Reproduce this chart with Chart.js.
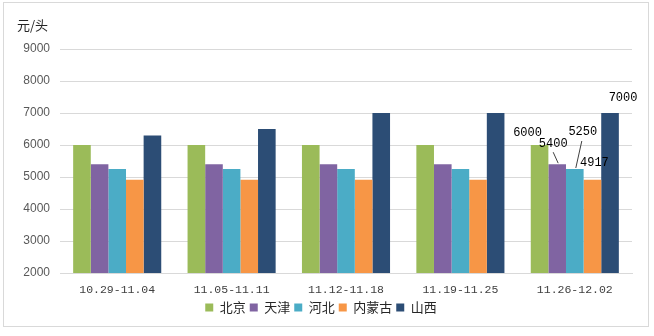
<!DOCTYPE html>
<html>
<head>
<meta charset="utf-8">
<script src="https://cdn.jsdelivr.net/npm/chart.js@4"></script>
<style>
  html, body { margin: 0; padding: 0; background: #fff; }
  #wrap { position: relative; width: 654px; height: 336px; }
  #frame { position: absolute; left: 3px; top: 2px; width: 646px; height: 325px;
           border: 1px solid #d9d9d9; box-sizing: border-box; pointer-events: none; }
</style>
</head>
<body>
<div id="wrap">
  <canvas id="chart" width="654" height="336"></canvas>
  <div id="frame"></div>
</div>
<script>
const weeks = ["10.29-11.04", "11.05-11.11", "11.12-11.18", "11.19-11.25", "11.26-12.02"];
const regions = ["北京", "天津", "河北", "内蒙古", "山西"];
const beijing     = [6000, 6000, 6000, 6000, 6000];
const tianjin     = [5400, 5400, 5400, 5400, 5400];
const hebei       = [5250, 5250, 5250, 5250, 5250];
const neimenggu   = [4917, 4917, 4917, 4917, 4917];
const shanxi      = [6300, 6500, 7000, 7000, 7000];
const colors = ["#9BBB59", "#8064A2", "#4BACC6", "#F79646", "#2C4D75"];
const yTicks = [2000, 3000, 4000, 5000, 6000, 7000, 8000, 9000];

// 마지막 주만 값 표시: [dx, dy, 지시선 여부]
const labelOffsets = [[-12, -12, false], [-4, -20, true], [8, -37, true], [2, -17, false], [13, -15, false]];

const series = [beijing, tianjin, hebei, neimenggu, shanxi];

const extras = {
    id: "extras",
    afterDatasetsDraw(chart) {
        const ctx = chart.ctx;
        ctx.save();
        ctx.fillStyle = "#262626";
        ctx.font = "13px 'Noto Sans CJK SC', sans-serif";
        ctx.textAlign = "left";
        ctx.textBaseline = "middle";
        ctx.fillText("元/头", 17, 25);

        const last = weeks.length - 1;
        ctx.font = "12px 'Liberation Mono', monospace";
        ctx.textAlign = "center";
        ctx.strokeStyle = "#404040";
        ctx.lineWidth = 1;
        chart.data.datasets.forEach((ds, i) => {
            const bar = chart.getDatasetMeta(i).data[last];
            const [dx, dy, line] = labelOffsets[i];
            const tx = bar.x + dx, ty = bar.y + dy;
            ctx.fillStyle = "#000";
            ctx.fillText(String(ds.data[last]), tx, ty);
            if (line) {
                ctx.beginPath();
                if (i === 1) {
                    ctx.moveTo(tx, ty + 8);
                    ctx.lineTo(bar.x + 1, bar.y - 1);
                } else {
                    ctx.moveTo(tx - 1, ty + 9);
                    ctx.lineTo(bar.x + 1, bar.y - 1);
                }
                ctx.stroke();
            }
        });
        ctx.restore();
    }
};

new Chart(document.getElementById("chart"), {
    type: "bar",
    data: {
        labels: weeks,
        datasets: regions.map((name, i) => ({
            label: name,
            data: series[i],
            backgroundColor: colors[i],
            barPercentage: 1,
            categoryPercentage: 0.77,
        })),
    },
    options: {
        responsive: false,
        animation: false,
        layout: { padding: { left: 10, right: 22, top: 49, bottom: 12 } },
        scales: {
            x: {
                grid: { display: false, drawTicks: false },
                border: { color: "#d9d9d9" },
                ticks: { color: "#404040", font: { family: "'Liberation Mono', monospace", size: 11.5 }, padding: 10 },
                afterFit: s => { s.height = 24; },
            },
            y: {
                min: 2000, max: 9000,
                afterBuildTicks: s => { s.ticks = yTicks.map(v => ({ value: v })); },
                grid: { color: "#d9d9d9", drawTicks: false },
                border: { display: false },
                ticks: {
                    color: "#595959", font: { family: "'Liberation Sans', Arial", size: 12 }, padding: 10,
                    callback: v => String(v),
                },
                afterFit: s => { s.width = 50; },
            },
        },
        plugins: {
            legend: {
                position: "bottom",
                labels: {
                    boxWidth: 8, boxHeight: 8, padding: 4,
                    color: "#262626",
                    font: { family: "'Noto Sans CJK SC', sans-serif", size: 13 },
                },
            },
            tooltip: { enabled: false },
        },
    },
    plugins: [extras],
});
</script>
</body>
</html>
